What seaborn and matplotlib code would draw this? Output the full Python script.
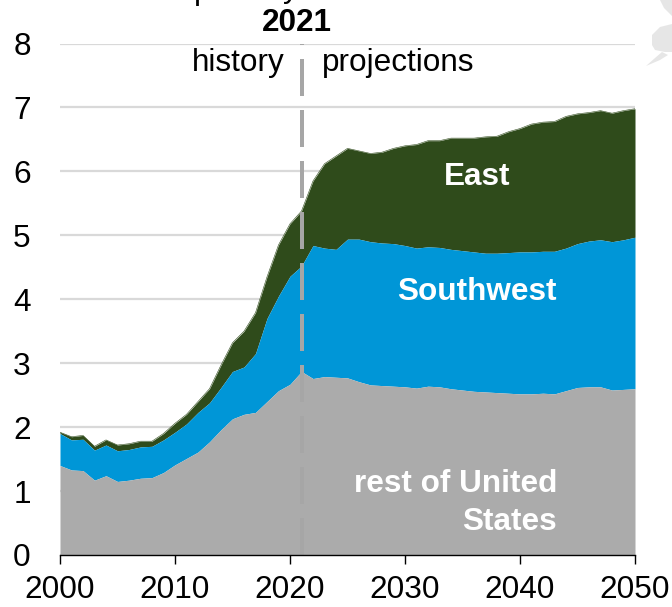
import matplotlib
matplotlib.use("Agg")
import matplotlib.pyplot as plt
import seaborn as sns
import pandas as pd
from matplotlib.patches import Polygon

years = list(range(2000, 2051))
rest_top = [1.40,1.33,1.32,1.17,1.24,1.15,1.17,1.20,1.21,1.29,1.41,1.51,1.61,1.77,1.96,2.13,2.20,2.23,2.40,2.57,2.67,
            2.87,2.76,2.79,2.78,2.77,2.71,2.66,2.65,2.64,2.63,2.61,2.64,2.63,2.60,2.58,2.56,2.55,2.54,2.53,2.52,
            2.52,2.53,2.52,2.57,2.62,2.63,2.63,2.58,2.59,2.60]
southwest_top = [1.90,1.80,1.81,1.64,1.72,1.63,1.65,1.69,1.70,1.80,1.92,2.05,2.23,2.38,2.62,2.87,2.94,3.15,3.70,4.05,4.36,
                 4.52,4.84,4.80,4.78,4.94,4.94,4.90,4.88,4.87,4.84,4.80,4.82,4.81,4.78,4.76,4.74,4.72,4.72,4.73,4.74,
                 4.74,4.75,4.75,4.80,4.87,4.91,4.93,4.90,4.93,4.97]
east_top = [1.92,1.85,1.87,1.70,1.80,1.72,1.74,1.78,1.78,1.90,2.06,2.20,2.40,2.60,2.97,3.32,3.50,3.79,4.35,4.85,5.18,
            5.38,5.85,6.12,6.24,6.36,6.32,6.28,6.30,6.36,6.40,6.42,6.48,6.48,6.52,6.52,6.52,6.54,6.55,6.62,6.67,
            6.74,6.77,6.78,6.86,6.90,6.92,6.95,6.91,6.95,6.98]
x_ticks = [2000, 2010, 2020, 2030, 2040, 2050]
y_ticks = [0, 1, 2, 3, 4, 5, 6, 7, 8]
GREY, BLUE, GREEN = "#ababab", "#0096d7", "#2f4b1b"

sns.set_style("white")
plt.rcParams["font.family"] = ["Liberation Sans", "DejaVu Sans"]

W, H = 672, 607
fig = plt.figure(figsize=(W / 100, H / 100), dpi=100)
ax = fig.add_axes([60 / W, 1 - 555 / H, 575 / W, (555 - 43.5) / H])
ax.set_facecolor("none")

df = pd.DataFrame({"year": years, "rest": rest_top, "southwest": southwest_top, "east": east_top})
ax.fill_between(df.year, df.southwest, df.east, color=GREEN, lw=0, zorder=2)
ax.fill_between(df.year, df.rest, df.southwest, color=BLUE, lw=0, zorder=2.1)
ax.fill_between(df.year, 0, df.rest, color=GREY, lw=0, zorder=2.2)
sns.lineplot(data=df, x="year", y="east", color=GREEN, lw=0.4, ax=ax, zorder=2)

ax.set_xlim(2000, 2050)
ax.set_ylim(0, 8)
ax.set_xticks(x_ticks)
ax.set_yticks(y_ticks)
ax.set_xlabel("")
ax.set_ylabel("")
ax.grid(axis="y", color="#d9d9d9", lw=1.6, zorder=1)
ax.grid(axis="x", visible=False)
ax.set_axisbelow(True)
sns.despine(ax=ax, left=True, right=True, top=True)
ax.spines["bottom"].set_color("black")
ax.spines["bottom"].set_linewidth(1.0)
ax.spines["bottom"].set_zorder(5)
ax.tick_params(axis="x", bottom=True, length=6.5, width=1.0, color="black", pad=8.0, labelsize=22.7)
ax.tick_params(axis="y", left=False, pad=17.5, labelsize=22.7)
for lab in ax.get_xticklabels() + ax.get_yticklabels():
    lab.set_color("black")

# 2021 divider: 4 px wide, 37 px dash, 14 px gap
ax.plot([2021, 2021], [0, 8], color="#a6a6a6", lw=2.88, solid_capstyle="butt",
        dashes=(37 / 4, 14 / 4), dash_capstyle="butt", zorder=3, clip_on=False)


def t(px, py, s, **kw):
    fig.text(px / W, 1 - py / H, s, **kw)


t(297, 23, "2021", ha="center", va="center", fontsize=22.7, fontweight="bold", color="black")
t(285, 63, "history", ha="right", va="center", fontsize=22.7, color="black")
t(322, 63, "projections", ha="left", va="center", fontsize=22.7, color="black")
t(477, 177, "East", ha="center", va="center", fontsize=22.7, fontweight="bold", color="white")
t(477, 292, "Southwest", ha="center", va="center", fontsize=22.7, fontweight="bold", color="white")
t(557, 484, "rest of United", ha="right", va="center", fontsize=22.7, fontweight="bold", color="white")
t(557, 522, "States", ha="right", va="center", fontsize=22.7, fontweight="bold", color="white")
# only the descenders of a line above the chart are visible in the reference
t(203, -1, "p", ha="center", va="baseline", fontsize=22.7, color="black")
t(291, -3, "y", ha="center", va="baseline", fontsize=22.7, color="black")

# faint Alaska map fragment in the corner
for pts in ([(660, 0), (672, 0), (672, 16), (664, 8)],
            [(652, 35), (660, 27), (672, 24), (672, 52), (665, 52), (655, 50), (652, 45)],
            [(646, 66), (660, 60), (668, 55), (662, 52), (655, 58)]):
    fig.add_artist(Polygon([(x / W, 1 - y / H) for x, y in pts], closed=True,
                           transform=fig.transFigure, facecolor="#e6e6e6", edgecolor="none"))

fig.savefig("out.png", dpi=100)
